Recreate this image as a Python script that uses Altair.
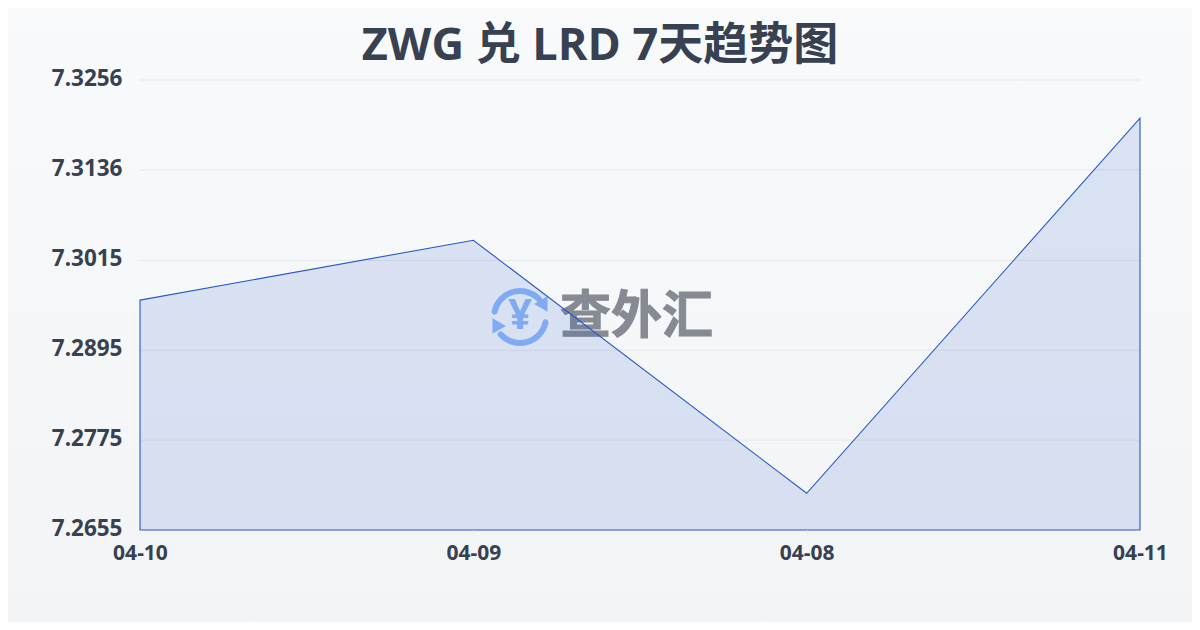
import altair as alt
import pandas as pd

dates = ["04-10", "04-09", "04-08", "04-11"]
rates = [7.2962, 7.3042, 7.2704, 7.3205]
y_floor = 7.2655
y_ticks = [7.2655, 7.2775, 7.2895, 7.3015, 7.3136, 7.3256]
title_text = "ZWG 兑 LRD 7天趋势图"
watermark = "查外汇"

CJK = "Noto Sans CJK SC"
INK = "#374151"
PLOT_W, PLOT_H = 1000, 450

df = pd.DataFrame({"date": dates, "rate": rates, "floor": [y_floor] * len(dates)})
grid_df = pd.DataFrame({"tick": y_ticks[1:]})

x_enc = alt.X("date:N", sort=dates,
              scale=alt.Scale(type="point", padding=0),
              axis=alt.Axis(title=None, labelAngle=0, labelFont="Noto Sans", labelFontWeight="bold",
                            labelFontSize=21, labelColor=INK, labelPadding=6, tickSize=6,
                            tickColor="#f0f0ea", domain=False, grid=False, zindex=1))
y_scale = alt.Scale(domain=[7.2655, 7.3256], nice=False, zero=False)
y_axis = alt.Axis(title=None, values=y_ticks, format=".4f", labelFont="Noto Sans",
                  labelFontWeight="bold", labelFontSize=22.5, labelColor=INK,
                  labelPadding=18, ticks=False, domain=False, grid=False,
                  labelBaseline="middle", labelOffset=-1.5,
                  labelOverlap=False, zindex=1)
y_enc = alt.Y("rate:Q", scale=y_scale, axis=y_axis)

bg = alt.Chart(df).mark_rect(
    color=alt.Gradient(gradient="linear", x1=0, y1=0, x2=0, y2=1,
                       stops=[alt.GradientStop(color="#f8fafc", offset=0),
                              alt.GradientStop(color="#f3f4f6", offset=1)]),
    clip=False,
).encode(x=alt.value(-132), x2=alt.value(1052), y=alt.value(-72), y2=alt.value(542))

grid = alt.Chart(grid_df).mark_rule(color="#e5e7eb", strokeWidth=1).encode(
    y=alt.Y("tick:Q", scale=y_scale, axis=y_axis))

base = alt.Chart(df).encode(x=x_enc, y=y_enc)
axes = base.mark_point(opacity=0)

ICON = "#8fb9f8"
one = pd.DataFrame({"k": [0]})
def arc(t0, t1):
    return alt.Chart(one).mark_arc(color=ICON, innerRadius=23, outerRadius=29, theta=t0, theta2=t1,
                                   cornerRadius=3).encode(x=alt.value(380), y=alt.value(237))
def tri(px, py, ang):
    return alt.Chart(one).mark_point(shape="triangle", filled=True, color=ICON, size=240, opacity=1,
                                     angle=ang).encode(x=alt.value(px), y=alt.value(py))

icon = (arc(4.80, 7.25) + arc(1.66, 4.10) + tri(403, 224, 150) + tri(357, 246, 330)
        + alt.Chart(one).mark_text(text="¥", font="Noto Sans", fontWeight="bold", fontSize=42, color=ICON,
                                   align="center", baseline="middle").encode(x=alt.value(380), y=alt.value(236)))
mark_txt = alt.Chart(one).mark_text(text=watermark, font=CJK, fontWeight="bold", fontSize=51,
                                    color="#7c818b", stroke="#7c818b", strokeWidth=1, opacity=0.92,
                                    align="left", baseline="middle"
                                    ).encode(x=alt.value(420), y=alt.value(238))

area = base.mark_area(color="#2a5fd0", fillOpacity=0.14, stroke="#2558c6", strokeWidth=1.1, line=False,
                      interpolate="linear").encode(y2=alt.Y2("floor:Q"))

title = alt.Chart(one).mark_text(text=title_text, font="'Open Sans','Noto Sans CJK SC'", fontWeight="bold",
                                 fontSize=45, color=INK,
                                 align="center", baseline="middle").encode(x=alt.value(460), y=alt.value(-34))

chart = alt.layer(bg, grid, axes, icon, mark_txt, area, title).properties(
    width=PLOT_W, height=PLOT_H,
    padding={"left": 132, "top": 72, "right": 52, "bottom": 92},
    autosize=alt.AutoSizeParams(type="none"),
    background="#f6f7f9",
).configure_view(stroke=None)

chart.save("out.html", embed_options={"renderer": "svg", "actions": False})
